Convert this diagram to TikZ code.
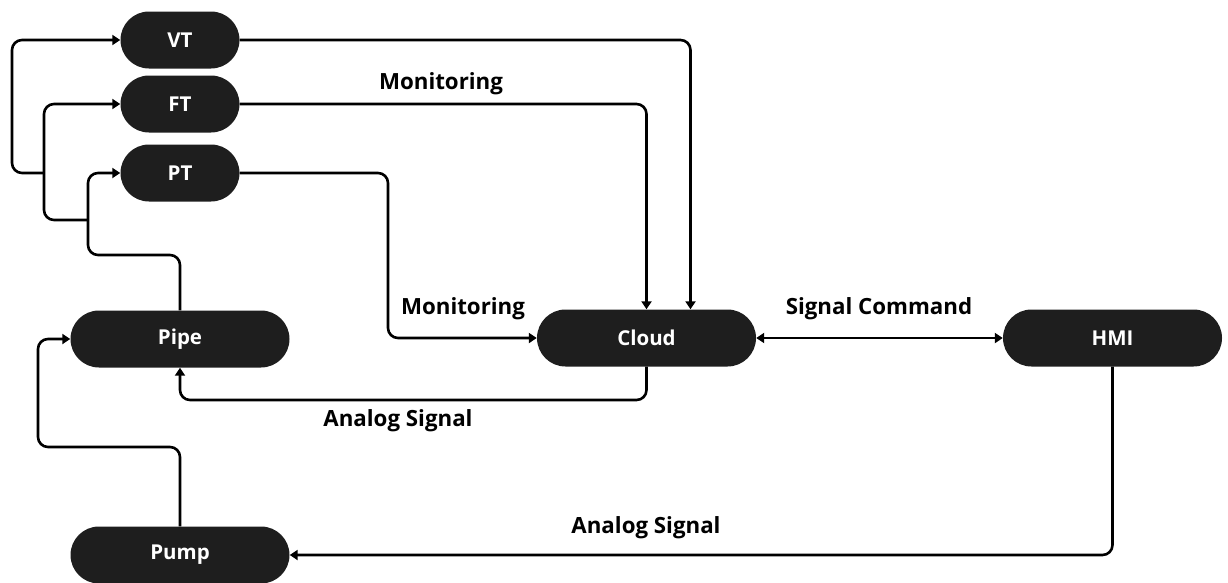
\documentclass[tikz,border=0pt]{standalone}
\usepackage{fontspec}
\setmainfont{Open Sans}
\usetikzlibrary{arrows.meta}
\definecolor{boxfill}{HTML}{1E1E1E}
\tikzset{
  x=1pt, y=-1pt,
  unit/.style={fill=boxfill, text=white, rounded corners=28.5pt,
    minimum height=57pt, inner sep=0pt, font=\fontsize{20.5}{22}\selectfont\bfseries},
  sensor/.style={unit, minimum width=119pt},
  block/.style={unit, minimum width=219pt},
  conn/.style={line width=2.6pt, rounded corners=10pt,
    -{Triangle[length=8pt,width=10pt]}},
  tag/.style={font=\fontsize{22.3}{24}\selectfont\bfseries, text=black, inner sep=0pt}
}
\begin{document}
\begin{tikzpicture}
\useasboundingbox (0,0) rectangle (1228,582);

% units
\node[sensor] (VT) at (180,40) {VT};
\node[sensor] (FT) at (180,104) {FT};
\node[sensor] (PT) at (180,173) {PT};
\node[block] (Pipe)  at (180,339) {Pipe};
\node[block] (Cloud) at (646.5,338) {Cloud};
\node[block] (HMI)   at (1112.5,338) {HMI};
\node[block] (Pump)  at (180,555) {Pump};

% branch points on the sensor feed lines
\coordinate (b1) at (88,220);
\coordinate (b2) at (44,173);

% pipe to the transmitters
\draw[conn] (Pipe.north) |- (88,255) |- (PT.west);
\draw[conn] (b1) -| (44,104) -- (FT.west);
\draw[conn] (b2) -| (12,40) -- (VT.west);

% transmitters to the cloud
\draw[conn] (VT.east) -| ([xshift=44pt]Cloud.north);
\draw[conn] (FT.east) -| (Cloud.north);
\draw[conn] (PT.east) -| (388,338) -- (Cloud.west);

% cloud and HMI
\draw[conn, {Triangle[length=8pt,width=10pt]}-{Triangle[length=8pt,width=10pt]}] (Cloud.east) -- (HMI.west);

% control returns
\draw[conn] (Cloud.south) |- (180,400) -- (Pipe.south);
\draw[conn] (HMI.south) |- (Pump.east);
\draw[conn] (Pump.north) |- (38,447) |- (Pipe.west);

% labels
\node[tag] (m1) at (441,84) {Monitoring};
\node[tag] (m2) at (463,309) {Monitoring};
\node[tag] (sc) at (879,309) {Signal Command};
\node[tag] (a1) at (398,421) {Analog Signal};
\node[tag] (a2) at (646,528) {Analog Signal};
\end{tikzpicture}
\end{document}
